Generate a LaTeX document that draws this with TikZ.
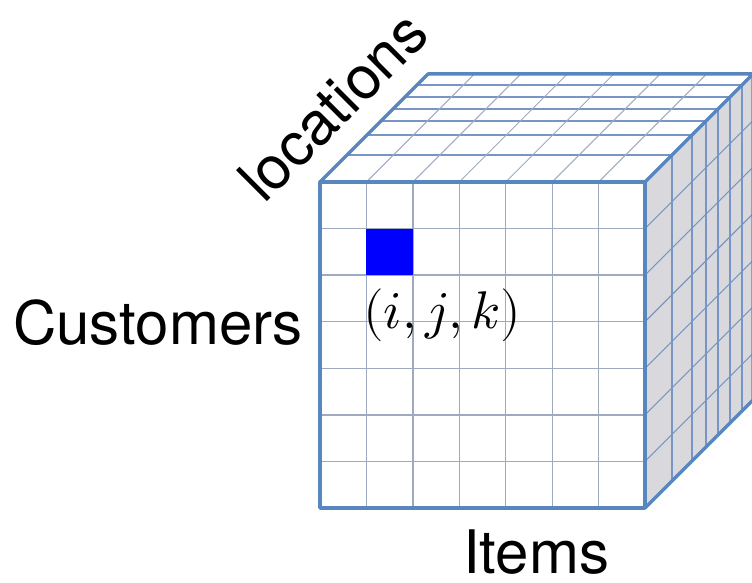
\documentclass[tikz,border=0pt]{standalone}
\usepackage{fontspec}
\usepackage{unicode-math}
\setmainfont{TeX Gyre Heros}
\usepackage{tikz}
\definecolor{edgeblue}{RGB}{88,134,190}
\definecolor{gridblue}{RGB}{120,150,196}
\definecolor{gridgray}{RGB}{158,170,192}
\definecolor{sidegray}{RGB}{217,217,221}
\tikzset{
  edge/.style={line width=3.5pt, draw=edgeblue, line join=round},
  gridline/.style={line width=1.3pt, draw=gridgray},
  depthline/.style={line width=1.6pt, draw=gridblue},
  axislabel/.style={font=\fontsize{60}{72}\selectfont, inner sep=0pt}
}

\begin{document}
\begin{tikzpicture}[x=1pt,y=1pt]
	\useasboundingbox (0,0) rectangle (752,582);
	% 前面
	\coordinate (A) at (320,74);
	\coordinate (B) at (645,74);
	\coordinate (C) at (645,400);
	\coordinate (D) at (320,400);
	% 后面
	\coordinate (B1) at (753,182);
	\coordinate (C1) at (753,508);
	\coordinate (D1) at (428,508);
	
	% 三个面
	\fill[sidegray] (B) -- (B1) -- (C1) -- (C) -- cycle;
	\fill[white] (D) -- (C) -- (C1) -- (D1) -- cycle;
	\fill[white] (A) rectangle (C);
	
	% 前面网格
	\foreach \i in {1,...,6} {
		\draw[gridline] ({320+\i*325/7},74) -- ({320+\i*325/7},400);
		\draw[gridline] (320,{74+\i*326/7}) -- (645,{74+\i*326/7});
	}
	% 顶面和侧面网格
	\foreach \d in {27,47,61,73,85,97} {
		\draw[depthline] ({320+\d},{400+\d}) -- ({645+\d},{400+\d});
		\draw[depthline] ({645+\d},{74+\d}) -- ({645+\d},{400+\d});
	}
	\foreach \i in {1,...,6} {
		\draw[gridline, line width=1pt] ({320+\i*325/7},400) -- ++(108,108);
		\draw[depthline, line width=1.1pt] (645,{74+\i*326/7}) -- ++(108,108);
	}
	
	% 单元格 (i,j,k)
	\fill[blue] ({320+325/7},{400-2*326/7}) rectangle ({320+2*325/7},{400-326/7});
	
	% 棱
	\draw[edge] (A) rectangle (C);
	\draw[edge] (D) -- (D1) -- (C1) -- (C);
	\draw[edge] (B) -- (B1) -- (C1);
	
	\node[axislabel, anchor=base west] (customers) at (13,238) {Customers};
	\node[axislabel, anchor=base west] (items) at (463,9) {Items};
	\node[axislabel, anchor=base west, rotate=45] (locations) at (264,377) {locations};
	\node[font=\fontsize{53}{60}\selectfont, inner sep=0pt, anchor=base] (cell) at (442,254) {$(i,j,k)$};
\end{tikzpicture}
\end{document}
